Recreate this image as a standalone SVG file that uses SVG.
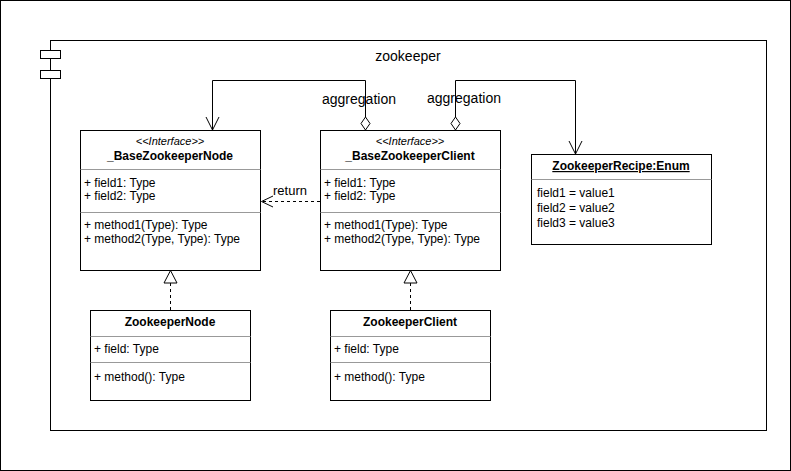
<svg xmlns="http://www.w3.org/2000/svg" width="791" height="471" viewBox="0 0 791 471">
<style>
text{font-family:"Liberation Sans",Arial,sans-serif;font-size:12px;fill:#000}
.b{font-weight:bold}
.c{text-anchor:middle}
.box{fill:#fff;stroke:#000;stroke-width:1}
.sep{stroke:#999;stroke-width:1}
.ln{fill:none;stroke:#000;stroke-width:1}
</style>
<rect width="791" height="471" fill="#fff"/>
<g id="zookeeper">
<rect x="0.5" y="0.5" width="790" height="470" fill="none" stroke="#000"/>
<rect x="50.5" y="40.5" width="716" height="390" class="box"/>
<rect x="40.5" y="50.5" width="20" height="8" class="box"/>
<rect x="40.5" y="70.5" width="20" height="8" class="box"/>
<text x="408" y="61" class="c" style="font-size:14px">zookeeper</text>
</g>
<g id="connectors">
<path d="M365.5 117 V80.5 H212.5 V130" class="ln"/>
<path d="M206 117 L212.5 130 L219 117" class="ln"/>
<path d="M365.5 117 L361 123.5 L365.5 130 L370 123.5 Z" class="box"/>
<text x="359" y="104" class="c" style="font-size:14px">aggregation</text>
<path d="M455.5 117 V80.5 H575.5 V154" class="ln"/>
<path d="M569 141 L575.5 154 L582 141" class="ln"/>
<path d="M455.5 117 L451 123.5 L455.5 130 L460 123.5 Z" class="box"/>
<text x="464" y="103" class="c" style="font-size:14px">aggregation</text>
<path d="M320 201.5 H262" class="ln" stroke-dasharray="3 3"/>
<path d="M273 196 L261.5 201.5 L273 207" class="ln"/>
<text x="290" y="195" class="c" style="font-size:13px">return</text>
<path d="M170.5 283 V310" class="ln" stroke-dasharray="3 3"/>
<path d="M170.5 270.5 L164 283 L177 283 Z" class="box"/>
<path d="M410.5 283 V310" class="ln" stroke-dasharray="3 3"/>
<path d="M410.5 270.5 L404 283 L417 283 Z" class="box"/>
</g>
<g id="BaseZookeeperNode">
<rect x="80.5" y="130.5" width="180" height="140" class="box"/>
<text x="170" y="145" class="c" font-style="italic" style="font-size:11px">&lt;&lt;Interface&gt;&gt;</text>
<text x="170" y="160" class="c b">_BaseZookeeperNode</text>
<line x1="80.5" y1="169.5" x2="260.5" y2="169.5" class="sep"/>
<text x="84" y="187">+ field1: Type</text>
<text x="84" y="200">+ field2: Type</text>
<line x1="80.5" y1="212.5" x2="260.5" y2="212.5" class="sep"/>
<text x="84" y="229">+ method1(Type): Type</text>
<text x="84" y="243">+ method2(Type, Type): Type</text>
</g>
<g id="BaseZookeeperClient">
<rect x="320.5" y="130.5" width="180" height="140" class="box"/>
<text x="410" y="145" class="c" font-style="italic" style="font-size:11px">&lt;&lt;Interface&gt;&gt;</text>
<text x="410" y="160" class="c b">_BaseZookeeperClient</text>
<line x1="320.5" y1="169.5" x2="500.5" y2="169.5" class="sep"/>
<text x="324" y="187">+ field1: Type</text>
<text x="324" y="200">+ field2: Type</text>
<line x1="320.5" y1="212.5" x2="500.5" y2="212.5" class="sep"/>
<text x="324" y="229">+ method1(Type): Type</text>
<text x="324" y="243">+ method2(Type, Type): Type</text>
</g>
<g id="ZookeeperRecipe">
<rect x="531.5" y="154.5" width="180" height="90" class="box"/>
<text x="621" y="170" class="c b" text-decoration="underline">ZookeeperRecipe:Enum</text>
<line x1="531.5" y1="179.5" x2="711.5" y2="179.5" class="sep"/>
<text x="537" y="197">field1 = value1</text>
<text x="537" y="212">field2 = value2</text>
<text x="537" y="227">field3 = value3</text>
</g>
<g id="ZookeeperNode">
<rect x="90.5" y="310.5" width="160" height="90" class="box"/>
<text x="170" y="326" class="c b">ZookeeperNode</text>
<line x1="90.5" y1="336.5" x2="250.5" y2="336.5" class="sep"/>
<text x="94" y="353">+ field: Type</text>
<line x1="90.5" y1="362.5" x2="250.5" y2="362.5" class="sep"/>
<text x="94" y="381">+ method(): Type</text>
</g>
<g id="ZookeeperClient">
<rect x="330.5" y="310.5" width="160" height="90" class="box"/>
<text x="410" y="326" class="c b">ZookeeperClient</text>
<line x1="330.5" y1="336.5" x2="490.5" y2="336.5" class="sep"/>
<text x="334" y="353">+ field: Type</text>
<line x1="330.5" y1="362.5" x2="490.5" y2="362.5" class="sep"/>
<text x="334" y="381">+ method(): Type</text>
</g>
</svg>
